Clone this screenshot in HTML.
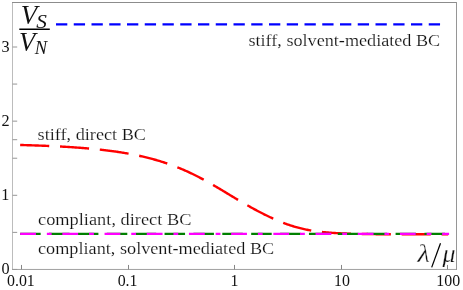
<!DOCTYPE html>
<html><head><meta charset="utf-8">
<style>
html,body{margin:0;padding:0;background:#fff;}
svg{display:block;will-change:transform;}
text{font-family:"Liberation Serif",serif;fill:#111;}
.it{font-style:italic;}
</style></head>
<body>
<svg width="463" height="290" viewBox="0 0 463 290">
<rect x="0" y="0" width="463" height="290" fill="#fff"/>
<!-- frame -->
<g stroke-width="1" fill="none">
<line x1="12.5" y1="2.0" x2="12.5" y2="269.95" stroke="#bcbcbc"/>
<line x1="12.0" y1="269.45" x2="457.0" y2="269.45" stroke="#a0a0a0"/>
<line x1="12.0" y1="2.5" x2="457.0" y2="2.5" stroke="#8c8c8c"/>
<line x1="456.5" y1="2.0" x2="456.5" y2="269.95" stroke="#969696"/>
<line x1="21.50" y1="269.45" x2="21.50" y2="264.95" stroke="#868686"/>
<line x1="128.50" y1="269.45" x2="128.50" y2="264.95" stroke="#868686"/>
<line x1="234.50" y1="269.45" x2="234.50" y2="264.95" stroke="#868686"/>
<line x1="341.50" y1="269.45" x2="341.50" y2="264.95" stroke="#868686"/>
<line x1="447.50" y1="269.45" x2="447.50" y2="264.95" stroke="#868686"/>
<line x1="12.5" y1="269.45" x2="17.2" y2="269.45" stroke="#969696"/>
<line x1="12.5" y1="232.38" x2="17.2" y2="232.38" stroke="#969696"/>
<line x1="12.5" y1="195.30" x2="17.2" y2="195.30" stroke="#969696"/>
<line x1="12.5" y1="158.22" x2="17.2" y2="158.22" stroke="#969696"/>
<line x1="12.5" y1="139.69" x2="17.2" y2="139.69" stroke="#969696"/>
<line x1="12.5" y1="121.15" x2="17.2" y2="121.15" stroke="#969696"/>
<line x1="12.5" y1="84.07" x2="17.2" y2="84.07" stroke="#969696"/>
<line x1="12.5" y1="47.00" x2="17.2" y2="47.00" stroke="#969696"/>
</g>
<!-- blue -->
<line x1="56.0" y1="24.4" x2="440.3" y2="24.4" stroke="#0000ff" stroke-width="2.4" stroke-dasharray="11.3,6.45"/>
<!-- red -->
<path d="M20.15,144.99 L21.15,145.02 L22.15,145.05 L23.15,145.07 L24.15,145.10 L25.15,145.13 L26.15,145.16 L27.15,145.19 L28.15,145.22 L29.15,145.25 L30.15,145.28 L31.15,145.31 L32.15,145.34 L33.15,145.37 L34.15,145.41 L35.15,145.44 L36.15,145.48 L37.15,145.51 L38.15,145.55 L39.15,145.58 L40.15,145.62 L41.15,145.66 L42.15,145.70 L43.15,145.73 L44.15,145.77 L45.15,145.81 L46.15,145.86 L47.15,145.90 L48.15,145.94 L49.15,145.98 L50.15,146.03 L51.15,146.07 L52.15,146.12 L53.15,146.17 L54.15,146.21 L55.15,146.26 L56.15,146.31 L57.15,146.36 L58.15,146.41 L59.15,146.46 L60.15,146.52 L61.15,146.57 L62.15,146.62 L63.15,146.68 L64.15,146.74 L65.15,146.80 L66.15,146.85 L67.15,146.91 L68.15,146.98 L69.15,147.04 L70.15,147.10 L71.15,147.17 L72.15,147.23 L73.15,147.30 L74.15,147.37 L75.15,147.43 L76.15,147.51 L77.15,147.58 L78.15,147.65 L79.15,147.72 L80.15,147.80 L81.15,147.88 L82.15,147.96 L83.15,148.04 L84.15,148.12 L85.15,148.20 L86.15,148.28 L87.15,148.37 L88.15,148.46 L89.15,148.55 L90.15,148.64 L91.15,148.73 L92.15,148.82 L93.15,148.92 L94.15,149.02 L95.15,149.11 L96.15,149.22 L97.15,149.32 L98.15,149.42 L99.15,149.53 L100.15,149.64 L101.15,149.75 L102.15,149.86 L103.15,149.97 L104.15,150.09 L105.15,150.21 L106.15,150.33 L107.15,150.45 L108.15,150.58 L109.15,150.70 L110.15,150.83 L111.15,150.96 L112.15,151.10 L113.15,151.24 L114.15,151.37 L115.15,151.52 L116.15,151.66 L117.15,151.81 L118.15,151.95 L119.15,152.11 L120.15,152.26 L121.15,152.42 L122.15,152.58 L123.15,152.74 L124.15,152.91 L125.15,153.07 L126.15,153.25 L127.15,153.42 L128.15,153.60 L129.15,153.78 L130.15,153.96 L131.15,154.15 L132.15,154.34 L133.15,154.53 L134.15,154.73 L135.15,154.93 L136.15,155.13 L137.15,155.34 L138.15,155.55 L139.15,155.77 L140.15,155.99 L141.15,156.21 L142.15,156.43 L143.15,156.66 L144.15,156.90 L145.15,157.14 L146.15,157.38 L147.15,157.62 L148.15,157.87 L149.15,158.13 L150.15,158.39 L151.15,158.65 L152.15,158.92 L153.15,159.19 L154.15,159.47 L155.15,159.75 L156.15,160.03 L157.15,160.32 L158.15,160.62 L159.15,160.92 L160.15,161.22 L161.15,161.53 L162.15,161.85 L163.15,162.16 L164.15,162.49 L165.15,162.82 L166.15,163.15 L167.15,163.49 L168.15,163.84 L169.15,164.19 L170.15,164.54 L171.15,164.91 L172.15,165.27 L173.15,165.65 L174.15,166.02 L175.15,166.41 L176.15,166.79 L177.15,167.19 L178.15,167.59 L179.15,167.99 L180.15,168.41 L181.15,168.82 L182.15,169.25 L183.15,169.67 L184.15,170.11 L185.15,170.55 L186.15,170.99 L187.15,171.45 L188.15,171.90 L189.15,172.37 L190.15,172.83 L191.15,173.31 L192.15,173.79 L193.15,174.27 L194.15,174.76 L195.15,175.26 L196.15,175.76 L197.15,176.27 L198.15,176.78 L199.15,177.30 L200.15,177.82 L201.15,178.35 L202.15,178.88 L203.15,179.41 L204.15,179.96 L205.15,180.50 L206.15,181.05 L207.15,181.61 L208.15,182.17 L209.15,182.73 L210.15,183.30 L211.15,183.87 L212.15,184.44 L213.15,185.02 L214.15,185.60 L215.15,186.18 L216.15,186.77 L217.15,187.36 L218.15,187.95 L219.15,188.55 L220.15,189.14 L221.15,189.74 L222.15,190.34 L223.15,190.94 L224.15,191.54 L225.15,192.14 L226.15,192.75 L227.15,193.35 L228.15,193.95 L229.15,194.56 L230.15,195.16 L231.15,195.76 L232.15,196.37 L233.15,196.97 L234.15,197.57 L235.15,198.17 L236.15,198.76 L237.15,199.36 L238.15,199.96 L239.15,200.55 L240.15,201.14 L241.15,201.73 L242.15,202.31 L243.15,202.89 L244.15,203.47 L245.15,204.05 L246.15,204.62 L247.15,205.19 L248.15,205.76 L249.15,206.32 L250.15,206.88 L251.15,207.44 L252.15,207.99 L253.15,208.54 L254.15,209.09 L255.15,209.63 L256.15,210.16 L257.15,210.70 L258.15,211.23 L259.15,211.75 L260.15,212.27 L261.15,212.79 L262.15,213.30 L263.15,213.80 L264.15,214.31 L265.15,214.80 L266.15,215.30 L267.15,215.78 L268.15,216.27 L269.15,216.75 L270.15,217.22 L271.15,217.68 L272.15,218.15 L273.15,218.60 L274.15,219.05 L275.15,219.49 L276.15,219.93 L277.15,220.36 L278.15,220.79 L279.15,221.21 L280.15,221.62 L281.15,222.02 L282.15,222.42 L283.15,222.81 L284.15,223.19 L285.15,223.56 L286.15,223.93 L287.15,224.29 L288.15,224.64 L289.15,224.98 L290.15,225.32 L291.15,225.64 L292.15,225.96 L293.15,226.27 L294.15,226.57 L295.15,226.87 L296.15,227.15 L297.15,227.43 L298.15,227.70 L299.15,227.96 L300.15,228.21 L301.15,228.45 L302.15,228.69 L303.15,228.92 L304.15,229.14 L305.15,229.35 L306.15,229.56 L307.15,229.76 L308.15,229.95 L309.15,230.13 L310.15,230.31 L311.15,230.48 L312.15,230.65 L313.15,230.80 L314.15,230.96 L315.15,231.10 L316.15,231.24 L317.15,231.38 L318.15,231.51 L319.15,231.63 L320.15,231.75 L321.15,231.86 L322.15,231.97 L323.15,232.08 L324.15,232.18 L325.15,232.27 L326.15,232.37 L327.15,232.46 L328.15,232.54 L329.15,232.62 L330.15,232.70 L331.15,232.77 L332.15,232.84 L333.15,232.91 L334.15,232.98 L335.15,233.04 L336.15,233.10 L337.15,233.15 L338.15,233.21 L339.15,233.26 L340.15,233.31 L341.15,233.36 L342.15,233.40 L343.15,233.45 L344.15,233.49 L345.15,233.53 L346.15,233.57 L347.15,233.60 L348.15,233.64 L349.15,233.67 L350.15,233.70 L351.15,233.73 L352.15,233.76 L353.15,233.79 L354.15,233.82 L355.15,233.84 L356.15,233.87 L357.15,233.89 L358.15,233.91 L359.15,233.93 L360.15,233.95 L361.15,233.97 L362.15,233.99 L363.15,234.01 L364.15,234.03 L365.15,234.04 L366.15,234.06 L367.15,234.07 L368.15,234.09 L369.15,234.10 L370.15,234.11 L371.15,234.13 L372.15,234.14 L373.15,234.15 L374.15,234.16 L375.15,234.17 L376.15,234.18 L377.15,234.19 L378.15,234.20 L379.15,234.20 L380.15,234.20 L381.15,234.20 L382.15,234.20 L383.15,234.20 L384.15,234.20 L385.15,234.20 L386.15,234.20 L387.15,234.20 L388.15,234.20 L389.15,234.20 L390.15,234.20 L391.15,234.20 L392.15,234.20 L393.15,234.20 L394.15,234.20 L395.15,234.20 L396.15,234.20 L397.15,234.20 L398.15,234.20 L399.15,234.20 L400.15,234.20 L401.15,234.20 L402.15,234.20 L403.15,234.20 L404.15,234.20 L405.15,234.20 L406.15,234.20 L407.15,234.20 L408.15,234.20 L409.15,234.20 L410.15,234.20 L411.15,234.20 L412.15,234.20 L413.15,234.20 L414.15,234.20 L415.15,234.20 L416.15,234.20 L417.15,234.20 L418.15,234.20 L419.15,234.20 L420.15,234.20 L421.15,234.20 L422.15,234.20 L423.15,234.20 L424.15,234.20 L425.15,234.20 L426.15,234.20 L427.15,234.20 L428.15,234.20 L429.15,234.20 L430.15,234.20 L431.15,234.20 L432.15,234.20 L433.15,234.20 L434.15,234.20 L435.15,234.20 L436.15,234.20 L437.15,234.20 L438.15,234.20 L439.15,234.20 L440.15,234.20 L441.15,234.20 L442.15,234.20 L443.15,234.20 L444.15,234.20 L445.15,234.20 L446.15,234.20 L447.15,234.20 L448.15,234.20" fill="none" stroke="#ff0000" stroke-width="2.4" stroke-dasharray="29.1,10.8"/>
<!-- green -->
<line x1="20.15" y1="233.9" x2="449.1" y2="233.9" stroke="#008000" stroke-width="2.4" stroke-dasharray="20.5,8.38"/>
<!-- magenta -->
<line x1="20.15" y1="233.9" x2="449.1" y2="233.9" stroke="#ff00ff" stroke-width="2.4" stroke-dasharray="15.8,10.9,4.8,10.7"/>
<!-- labels -->
<g font-size="16.2" fill="#000" stroke="#fff" stroke-width="0.16">
<text x="248.4" y="45.9" textLength="191.8" lengthAdjust="spacingAndGlyphs">stiff, solvent-mediated BC</text>
<text x="37.6" y="140.2" textLength="108.4" lengthAdjust="spacingAndGlyphs">stiff, direct BC</text>
<text x="38.0" y="225.1" textLength="153.4" lengthAdjust="spacingAndGlyphs">compliant, direct BC</text>
<text x="38.0" y="254.1" textLength="236.2" lengthAdjust="spacingAndGlyphs">compliant, solvent-mediated BC</text>
</g>
<!-- axis numbers -->
<g font-size="16.2">
<text x="1.5" y="51.9">3</text>
<text x="1.5" y="126.1">2</text>
<text x="1.3" y="200.0">1</text>
<text x="1.5" y="274.0">0</text>
</g>
<g font-size="15.9" text-anchor="middle">
<text x="20.9" y="285.6">0.01</text>
<text x="127.6" y="285.6">0.1</text>
<text x="234.5" y="285.6">1</text>
<text x="342" y="285.6">10</text>
<text x="448.2" y="285.6">100</text>
</g>
<!-- VS/VN -->
<g class="it">
<text x="20.8" y="24.2" font-size="27">V</text>
<text transform="translate(36.2,27.7) scale(1.15,1)" font-size="18.5">S</text>
<line x1="19.3" y1="29.25" x2="49.8" y2="29.25" stroke="#000" stroke-width="1.5"/>
<text x="19.0" y="51.3" font-size="26.6">V</text>
<text x="34.8" y="54" font-size="18.5">N</text>
<text transform="translate(417.6,261.6) scale(1.1,1)" font-size="26" stroke="#fff" stroke-width="0.3">λ</text>
<line x1="431.7" y1="267.4" x2="440.5" y2="243.3" stroke="#000" stroke-width="1.25"/>
<text x="442.6" y="261.6" font-size="26" stroke="#fff" stroke-width="0.25">μ</text>
</g>
</svg>
</body></html>
